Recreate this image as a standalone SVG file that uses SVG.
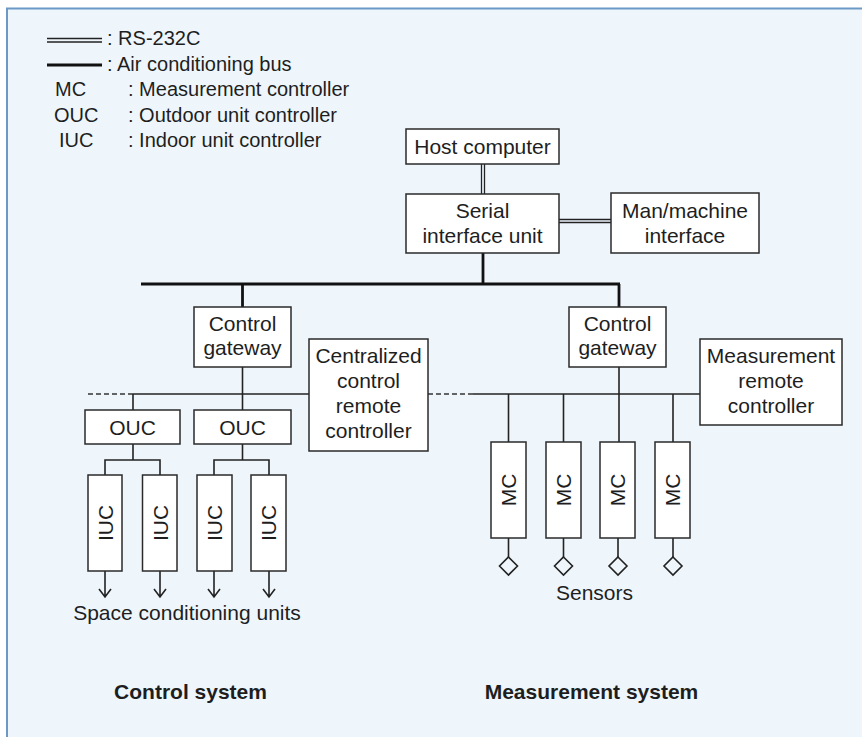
<svg xmlns="http://www.w3.org/2000/svg" width="862" height="737" viewBox="0 0 862 737">
<style>
text{font-family:"Liberation Sans",Arial,Helvetica,sans-serif;fill:#1e1e1e;}
.t{font-size:21px;text-anchor:middle;}
.lg{font-size:20px;}
.b{font-size:21px;font-weight:bold;text-anchor:middle;}
.box{fill:#fff;stroke:#2a2a2a;stroke-width:1.5;}
.ln{stroke:#222;stroke-width:1.6;fill:none;}
.bus{stroke:#111;stroke-width:2.8;fill:none;}
.dbl{stroke:#222;stroke-width:1.3;fill:none;}
.dash{stroke:#333;stroke-width:1.6;fill:none;stroke-dasharray:5 3;}
</style>
<rect x="0" y="0" width="862" height="737" fill="#ffffff"/>
<rect x="7" y="8.5" width="870" height="740" fill="#eef6fc" stroke="#6b98c4" stroke-width="2"/>

<g id="legend">
<line class="dbl" x1="47" y1="38.5" x2="102" y2="38.5"/>
<line class="dbl" x1="47" y1="42" x2="102" y2="42"/>
<text class="lg" x="107" y="45">: RS-232C</text>
<line class="bus" x1="47" y1="65" x2="102" y2="65" stroke-width="2.6"/>
<text class="lg" x="107" y="71">: Air conditioning bus</text>
<text class="lg" x="55" y="96">MC</text>
<text class="lg" x="128" y="96">: Measurement controller</text>
<text class="lg" x="54" y="121.5">OUC</text>
<text class="lg" x="128" y="121.5">: Outdoor unit controller</text>
<text class="lg" x="59" y="147">IUC</text>
<text class="lg" x="128" y="147">: Indoor unit controller</text>
</g>

<g id="connectors">
<line class="dbl" x1="481.5" y1="164" x2="481.5" y2="194"/>
<line class="dbl" x1="484.5" y1="164" x2="484.5" y2="194"/>
<line class="dbl" x1="559" y1="219.5" x2="611" y2="219.5"/>
<line class="dbl" x1="559" y1="222.5" x2="611" y2="222.5"/>
<line class="bus" x1="483" y1="253" x2="483" y2="284"/>
<line class="bus" x1="141" y1="284" x2="620" y2="284"/>
<line class="bus" x1="242.5" y1="284" x2="242.5" y2="307"/>
<line class="bus" x1="619" y1="284" x2="619" y2="307"/>
<line class="ln" x1="242.5" y1="367" x2="242.5" y2="410"/>
<line class="dash" x1="88" y1="394" x2="133" y2="394"/>
<line class="ln" x1="133" y1="394" x2="309" y2="394"/>
<line class="dash" x1="428" y1="394" x2="473" y2="394"/>
<line class="ln" x1="473" y1="394" x2="700" y2="394"/>
<line class="ln" x1="133" y1="394" x2="133" y2="410"/>
<path class="ln" d="M133 444V460M105 475V460H160V475"/>
<path class="ln" d="M242.5 444V460M214 475V460H269V475"/>
<path class="ln" d="M105 571V597M99 589L105 597L111 589"/>
<path class="ln" d="M160 571V597M154 589L160 597L166 589"/>
<path class="ln" d="M214 571V597M208 589L214 597L220 589"/>
<path class="ln" d="M269 571V597M263 589L269 597L275 589"/>
<line class="ln" x1="619" y1="367" x2="619" y2="442"/>
<line class="ln" x1="508.5" y1="394" x2="508.5" y2="442"/>
<line class="ln" x1="563.5" y1="394" x2="563.5" y2="442"/>
<line class="ln" x1="673" y1="394" x2="673" y2="442"/>
<path class="ln" d="M508.5 538V557M563.5 538V557M618 538V557M673 538V557"/>
<path class="ln" d="M508.5 557L517.5 566L508.5 575L499.5 566Z"/>
<path class="ln" d="M563.5 557L572.5 566L563.5 575L554.5 566Z"/>
<path class="ln" d="M618 557L627 566L618 575L609 566Z"/>
<path class="ln" d="M673 557L682 566L673 575L664 566Z"/>
</g>

<g id="host">
<rect class="box" x="406" y="129" width="153" height="35"/>
<text class="t" x="482.5" y="154">Host computer</text>
</g>
<g id="serial">
<rect class="box" x="406" y="194" width="153" height="59"/>
<text class="t" x="482.5" y="218">Serial</text>
<text class="t" x="482.5" y="243">interface unit</text>
</g>
<g id="mmi">
<rect class="box" x="611" y="193" width="148" height="60"/>
<text class="t" x="685" y="218">Man/machine</text>
<text class="t" x="685" y="243">interface</text>
</g>
<g id="gw-left">
<rect class="box" x="194" y="307" width="97" height="60"/>
<text class="t" x="242.5" y="331">Control</text>
<text class="t" x="242.5" y="355">gateway</text>
</g>
<g id="ccrc">
<rect class="box" x="309" y="339" width="119" height="112"/>
<text class="t" x="368.5" y="363">Centralized</text>
<text class="t" x="368.5" y="388">control</text>
<text class="t" x="368.5" y="413">remote</text>
<text class="t" x="368.5" y="438">controller</text>
</g>
<g id="gw-right">
<rect class="box" x="569" y="307" width="97" height="60"/>
<text class="t" x="617.5" y="331">Control</text>
<text class="t" x="617.5" y="355">gateway</text>
</g>
<g id="mrc">
<rect class="box" x="700" y="339" width="142" height="86"/>
<text class="t" x="771" y="363">Measurement</text>
<text class="t" x="771" y="388">remote</text>
<text class="t" x="771" y="413">controller</text>
</g>
<g id="ouc1">
<rect class="box" x="85" y="410" width="95" height="34"/>
<text class="t" x="132.5" y="435">OUC</text>
</g>
<g id="ouc2">
<rect class="box" x="194" y="410" width="97" height="34"/>
<text class="t" x="242.5" y="435">OUC</text>
</g>
<g id="iuc1">
<rect class="box" x="88" y="475" width="34" height="96"/>
<text class="t" transform="translate(112.5 523) rotate(-90)">IUC</text>
</g>
<g id="iuc2">
<rect class="box" x="142.5" y="475" width="34.5" height="96"/>
<text class="t" transform="translate(167.5 523) rotate(-90)">IUC</text>
</g>
<g id="iuc3">
<rect class="box" x="197" y="475" width="35" height="96"/>
<text class="t" transform="translate(222 523) rotate(-90)">IUC</text>
</g>
<g id="iuc4">
<rect class="box" x="251" y="475" width="35" height="96"/>
<text class="t" transform="translate(276 523) rotate(-90)">IUC</text>
</g>
<g id="mc1">
<rect class="box" x="491" y="442" width="35" height="96"/>
<text class="t" transform="translate(516 490) rotate(-90)">MC</text>
</g>
<g id="mc2">
<rect class="box" x="546" y="442" width="35" height="96"/>
<text class="t" transform="translate(571 490) rotate(-90)">MC</text>
</g>
<g id="mc3">
<rect class="box" x="600" y="442" width="35" height="96"/>
<text class="t" transform="translate(625 490) rotate(-90)">MC</text>
</g>
<g id="mc4">
<rect class="box" x="655" y="442" width="35" height="96"/>
<text class="t" transform="translate(680 490) rotate(-90)">MC</text>
</g>

<g id="labels">
<text class="t" x="187" y="620">Space conditioning units</text>
<text class="t" x="594.5" y="600">Sensors</text>
<text class="b" x="190.5" y="699">Control system</text>
<text class="b" x="591.5" y="699">Measurement system</text>
</g>
</svg>
